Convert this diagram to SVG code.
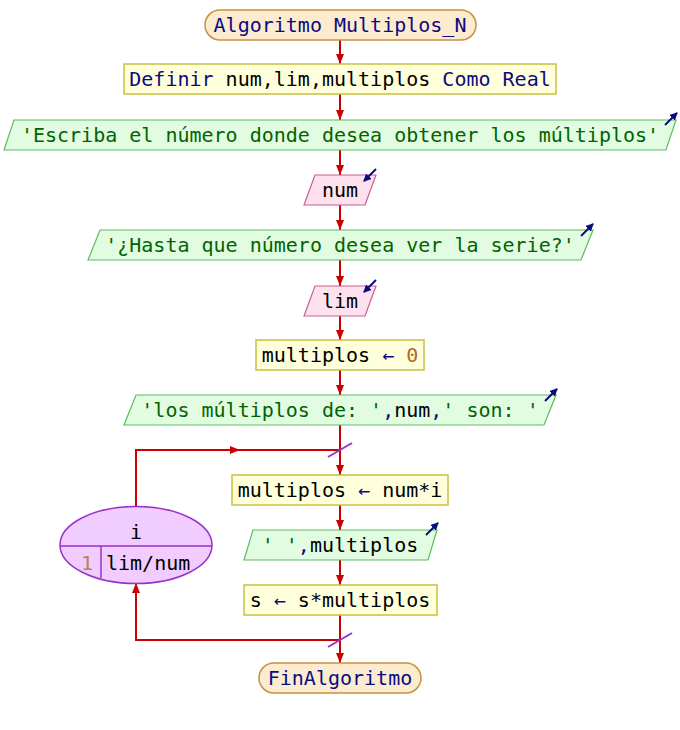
<svg xmlns="http://www.w3.org/2000/svg" width="680" height="730" viewBox="0 0 680 730">
  <style>
    .t { font-family: "DejaVu Sans Mono", "Liberation Mono", monospace; font-size: 20px; text-anchor: middle; fill: #000; }
    .kw { fill: #0b0b80; }
    .str { fill: #006400; }
    .nm { fill: #b8642a; }
    .term { fill: #fdebd0; stroke: #c89040; stroke-width: 1.5; }
    .proc { fill: #ffffdc; stroke: #c8c040; stroke-width: 1.5; }
    .out { fill: #e2fce2; stroke: #5cbc5c; stroke-width: 1.2; }
    .in { fill: #fde2ee; stroke: #c86090; stroke-width: 1.2; }
    .loop { fill: #f0ccff; stroke: #9932cc; stroke-width: 1.5; }
    .flow { fill: none; stroke: #cc0000; stroke-width: 2; }
    .io { fill: none; stroke: #0b0b80; stroke-width: 2; }
    .tick { stroke: #9932cc; stroke-width: 2; }
  </style>
  <defs>
    <marker id="ah" viewBox="0 0 10 8" refX="10" refY="4" markerWidth="10" markerHeight="8" markerUnits="userSpaceOnUse" orient="auto">
      <path d="M0,0 L10,4 L0,8 Z" fill="#cc0000"/>
    </marker>
    <marker id="ioh" viewBox="0 0 8 8" refX="7" refY="4" markerWidth="8" markerHeight="8" markerUnits="userSpaceOnUse" orient="auto">
      <path d="M0,0 L8,4 L0,8 Z" fill="#0b0b80"/>
    </marker>
  </defs>

  <!-- connectors -->
  <g id="connectors">
    <line class="flow" x1="340" y1="40" x2="340" y2="64" marker-end="url(#ah)"/>
    <line class="flow" x1="340" y1="94" x2="340" y2="120" marker-end="url(#ah)"/>
    <line class="flow" x1="340" y1="150" x2="340" y2="175" marker-end="url(#ah)"/>
    <line class="flow" x1="340" y1="205" x2="340" y2="230" marker-end="url(#ah)"/>
    <line class="flow" x1="340" y1="260" x2="340" y2="286" marker-end="url(#ah)"/>
    <line class="flow" x1="340" y1="316" x2="340" y2="340" marker-end="url(#ah)"/>
    <line class="flow" x1="340" y1="370" x2="340" y2="395" marker-end="url(#ah)"/>
    <line class="flow" x1="340" y1="425" x2="340" y2="475" marker-end="url(#ah)"/>
    <line class="flow" x1="340" y1="505" x2="340" y2="530" marker-end="url(#ah)"/>
    <line class="flow" x1="340" y1="560" x2="340" y2="585" marker-end="url(#ah)"/>
    <line class="flow" x1="340" y1="615" x2="340" y2="663" marker-end="url(#ah)"/>
    <!-- loop back edges -->
    <polyline class="flow" points="136,506 136,450 240,450" marker-end="url(#ah)"/>
    <line class="flow" x1="238" y1="450" x2="340" y2="450"/>
    <polyline class="flow" points="340,640 136,640 136,583" marker-end="url(#ah)"/>
    <line class="tick" x1="328" y1="457" x2="352" y2="443"/>
    <line class="tick" x1="328" y1="647" x2="352" y2="633"/>
  </g>

  <g id="start">
    <rect class="term" x="205" y="10" width="271" height="30" rx="15"/>
    <text class="t kw" x="340" y="32">Algoritmo Multiplos_N</text>
  </g>

  <g id="define">
    <rect class="proc" x="124" y="64" width="432" height="30"/>
    <text class="t" x="340" y="86"><tspan class="kw">Definir</tspan> num,lim,multiplos <tspan class="kw">Como Real</tspan></text>
  </g>

  <g id="write1">
    <polygon class="out" points="14,120 676,120 666,150 4,150"/>
    <text class="t str" x="340" y="142">'Escriba el número donde desea obtener los múltiplos'</text>
    <line class="io" x1="665" y1="125" x2="677" y2="113" marker-end="url(#ioh)"/>
  </g>

  <g id="read1">
    <polygon class="in" points="315,175 376,175 365,205 304,205"/>
    <text class="t" x="340" y="197">num</text>
    <line class="io" x1="376" y1="169" x2="364" y2="181" marker-end="url(#ioh)"/>
  </g>

  <g id="write2">
    <polygon class="out" points="100,230 593,230 581,260 88,260"/>
    <text class="t str" x="340" y="252">'¿Hasta que número desea ver la serie?'</text>
    <line class="io" x1="581" y1="236" x2="593" y2="224" marker-end="url(#ioh)"/>
  </g>

  <g id="read2">
    <polygon class="in" points="315,286 376,286 365,316 304,316"/>
    <text class="t" x="340" y="308">lim</text>
    <line class="io" x1="376" y1="280" x2="364" y2="292" marker-end="url(#ioh)"/>
  </g>

  <g id="assign0">
    <rect class="proc" x="256" y="340" width="168" height="30"/>
    <text class="t" x="340" y="362">multiplos <tspan class="kw">←</tspan> <tspan class="nm">0</tspan></text>
  </g>

  <g id="write3">
    <polygon class="out" points="136,395 556,395 544,425 124,425"/>
    <text class="t" x="340" y="417"><tspan class="str">'los múltiplos de: '</tspan><tspan class="kw">,</tspan>num<tspan class="kw">,</tspan><tspan class="str">' son: '</tspan></text>
    <line class="io" x1="545" y1="401" x2="557" y2="389" marker-end="url(#ioh)"/>
  </g>

  <g id="forloop">
    <ellipse class="loop" cx="136" cy="545" rx="76" ry="38.5"/>
    <line stroke="#9932cc" stroke-width="1.5" x1="60" y1="546" x2="212" y2="546"/>
    <line stroke="#9932cc" stroke-width="1.5" x1="101" y1="546" x2="101" y2="578"/>
    <text class="t" x="136" y="539">i</text>
    <text class="t" x="87" y="570" style="fill:#c08050">1</text>
    <text class="t" x="106" y="570" style="text-anchor:start">lim/num</text>
  </g>

  <g id="assign1">
    <rect class="proc" x="232" y="475" width="216" height="30"/>
    <text class="t" x="340" y="497">multiplos <tspan class="kw">←</tspan> num*i</text>
  </g>

  <g id="write4">
    <polygon class="out" points="253,530 437,530 428,560 244,560"/>
    <text class="t" x="340" y="552"><tspan class="str">' '</tspan><tspan class="kw">,</tspan>multiplos</text>
    <line class="io" x1="426" y1="535" x2="438" y2="523" marker-end="url(#ioh)"/>
  </g>

  <g id="assign2">
    <rect class="proc" x="244" y="585" width="193" height="30"/>
    <text class="t" x="340" y="607">s <tspan class="kw">←</tspan> s*multiplos</text>
  </g>

  <g id="end">
    <rect class="term" x="259" y="663" width="162" height="30" rx="15"/>
    <text class="t kw" x="340" y="685">FinAlgoritmo</text>
  </g>
</svg>
